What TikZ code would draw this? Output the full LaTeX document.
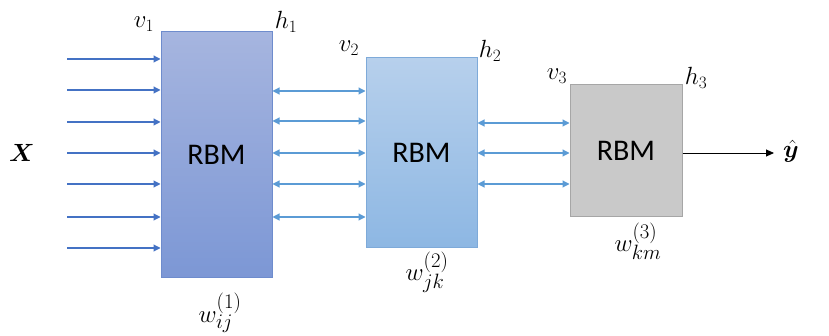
\documentclass[tikz,border=0pt]{standalone}
\usepackage{fontspec}
\usepackage{bm}
\newfontfamily\calib{Carlito}
\usetikzlibrary{arrows.meta}
\definecolor{bAtop}{RGB}{166,181,223}
\definecolor{bAbot}{RGB}{124,151,213}
\definecolor{bAdraw}{RGB}{110,140,205}
\definecolor{bBtop}{RGB}{183,208,236}
\definecolor{bBbot}{RGB}{141,183,227}
\definecolor{bBdraw}{RGB}{126,170,217}
\definecolor{bCfill}{RGB}{201,201,201}
\definecolor{bCdraw}{RGB}{166,166,166}
\definecolor{inblue}{RGB}{68,114,196}
\definecolor{dblblue}{RGB}{91,155,213}
\tikzset{
  rbm/.style={rectangle, inner sep=0pt, line width=1pt, font=\calib\fontsize{30}{32}\selectfont},
  inarr/.style={draw=inblue, line width=1.1pt, -{Triangle[length=7pt,width=7pt]}},
  dblarr/.style={draw=dblblue, line width=1.1pt, {Triangle[length=7pt,width=7pt]}-{Triangle[length=7pt,width=7pt]}},
  outarr/.style={draw=black, line width=0.9pt, -{Triangle[length=8pt,width=7pt]}},
  lbl/.style={inner sep=0pt, font=\fontsize{23}{25}\selectfont},
  wlbl/.style={inner sep=0pt, font=\fontsize{30}{32}\selectfont},
}
\begin{document}
\begin{tikzpicture}[x=1pt,y=-1pt]
\useasboundingbox (0,0) rectangle (829,336);
% boxes
\node[rbm, draw=bAdraw, top color=bAtop, bottom color=bAbot, minimum width=111pt, minimum height=246pt] (b1) at (216.5,155) {RBM};
\node[rbm, draw=bBdraw, top color=bBtop, bottom color=bBbot, minimum width=111pt, minimum height=190pt] (b2) at (421.5,153) {RBM};
\node[rbm, draw=bCdraw, fill=bCfill, minimum width=112pt, minimum height=132pt] (b3) at (626,151) {RBM};
% input arrows
\foreach \y [count=\i] in {59,90,122,153,184,217,248}{
  \coordinate (in\i) at (67,\y);
  \draw[inarr] (in\i) -- (b1.west |- in\i);
}
% double arrows b1-b2
\foreach \y [count=\i] in {91,121,153,184,217}{
  \coordinate (m\i) at (300,\y);
  \draw[dblarr] (b1.east |- m\i) -- (b2.west |- m\i);
}
% double arrows b2-b3
\foreach \y [count=\i] in {123,153,184}{
  \coordinate (n\i) at (520,\y);
  \draw[dblarr] (b2.east |- n\i) -- (b3.west |- n\i);
}
% output
\coordinate (outend) at (774,153);
\draw[outarr] (b3.east |- outend) -- (outend);
% labels
\node[wlbl] (X) at (22,153) {$\bm{X}$};
\node[wlbl] (yh) at (791,151) {$\hat{\bm{y}}$};
\node[lbl] (v1) at (144,24) {$v_1$};
\node[lbl] (h1) at (286,22) {$h_1$};
\node[lbl] (v2) at (349,48) {$v_2$};
\node[lbl] (h2) at (490,51) {$h_2$};
\node[lbl] (v3) at (557,76) {$v_3$};
\node[lbl] (h3) at (696,78) {$h_3$};
\node[wlbl] (w1) at (220,313) {$w_{ij}^{(1)}$};
\node[wlbl] (w2) at (427,272) {$w_{jk}^{(2)}$};
\node[wlbl] (w3) at (638,241) {$w_{km}^{(3)}$};
\end{tikzpicture}
\end{document}
